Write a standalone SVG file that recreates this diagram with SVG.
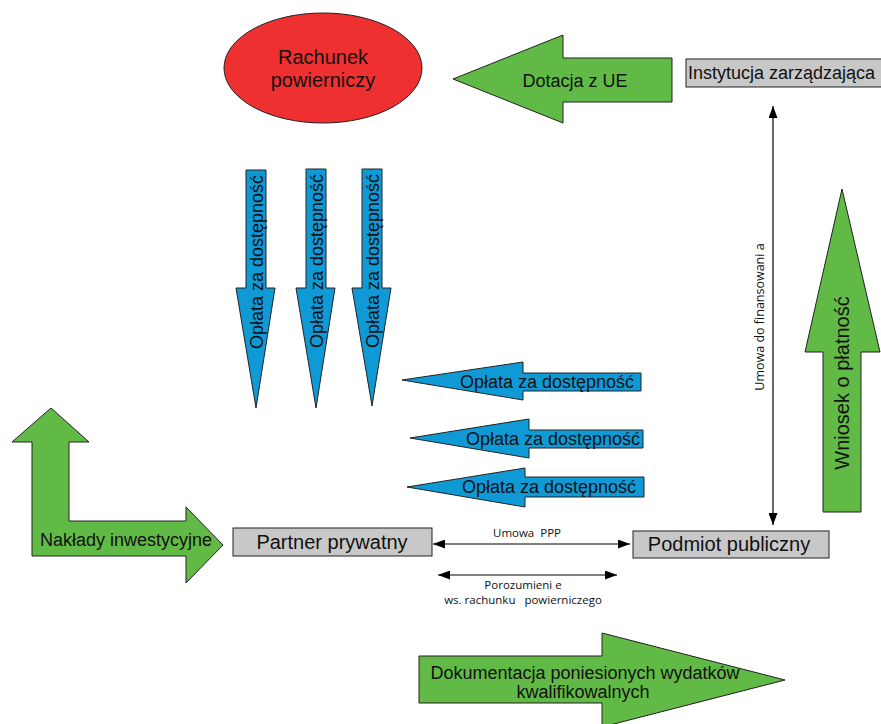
<svg xmlns="http://www.w3.org/2000/svg" width="881" height="724" viewBox="0 0 881 724">
<defs>
<marker id="ah" markerUnits="userSpaceOnUse" markerWidth="12" markerHeight="9" refX="12" refY="4.5" orient="auto-start-reverse">
<path d="M0,0 L12,4.5 L0,9 Z" fill="#000"/>
</marker>
</defs>
<style>
.g{fill:#62ba46;stroke:#222;stroke-width:1}
.b{fill:#0f9ad6;stroke:#222;stroke-width:1}
.box{fill:#c8c8c8;stroke:#222;stroke-width:1}
.t{font-family:"Liberation Sans",Arial,sans-serif;fill:#111}
.s{font-family:"Open Sans","Liberation Sans",sans-serif;font-size:11.5px;fill:#111}
.ln{stroke:#000;stroke-width:1.2;fill:none;marker-start:url(#ah);marker-end:url(#ah)}
</style>
<rect width="881" height="724" fill="#fff"/>

<g id="rachunek">
<ellipse cx="323" cy="68" rx="99" ry="55" fill="#ee3030" stroke="#222" stroke-width="1"/>
<text class="t" x="323" y="64" font-size="20" text-anchor="middle">Rachunek</text>
<text class="t" x="323" y="87" font-size="20" text-anchor="middle">powierniczy</text>
</g>

<g id="dotacja">
<polygon class="g" points="453,79 563,35 563,58 672,58 672,102 563,102 563,123"/>
<text class="t" x="575" y="87" font-size="18" text-anchor="middle">Dotacja z UE</text>
</g>

<g id="instytucja">
<rect class="box" x="686" y="59" width="200" height="28"/>
<text class="t" x="688" y="79" font-size="18">Instytucja zarządzająca</text>
</g>

<g id="oplata-v1">
<polygon class="b" points="246,170 266,170 266,288 275,288 256,408 236,288 246,288"/>
<text class="t" font-size="18" text-anchor="middle" transform="translate(263,262) rotate(-90)">Opłata za dostępność</text>
</g>
<g id="oplata-v2">
<polygon class="b" points="306,169 326,169 326,288 335,288 316,408 296,288 306,288"/>
<text class="t" font-size="18" text-anchor="middle" transform="translate(323,261) rotate(-90)">Opłata za dostępność</text>
</g>
<g id="oplata-v3">
<polygon class="b" points="362,169 382,169 382,288 391,288 372,406 352,288 362,288"/>
<text class="t" font-size="18" text-anchor="middle" transform="translate(379,261) rotate(-90)">Opłata za dostępność</text>
</g>

<g id="oplata-h1">
<polygon class="b" points="402,380 523,362 523,373 641,373 641,391 523,391 523,400"/>
<text class="t" x="547" y="388" font-size="18" text-anchor="middle">Opłata za dostępność</text>
</g>
<g id="oplata-h2">
<polygon class="b" points="410,438 529,419 529,430 643,430 643,448 529,448 529,458"/>
<text class="t" x="553" y="445" font-size="18" text-anchor="middle">Opłata za dostępność</text>
</g>
<g id="oplata-h3">
<polygon class="b" points="407,487 525,468 525,477 644,477 644,497 525,497 525,507"/>
<text class="t" x="549" y="493" font-size="18" text-anchor="middle">Opłata za dostępność</text>
</g>

<g id="naklady">
<polygon class="g" points="51,408 89,442 69,442 69,521 186,521 186,507 223,545 186,583 186,556 32,556 32,442 12,442"/>
<text class="t" x="126" y="546" font-size="18" text-anchor="middle">Nakłady inwestycyjne</text>
</g>

<g id="partner">
<rect class="box" x="233" y="528" width="199" height="28"/>
<text class="t" x="332" y="549" font-size="20" text-anchor="middle">Partner prywatny</text>
</g>

<g id="podmiot">
<rect class="box" x="633" y="531" width="196" height="27"/>
<text class="t" x="729" y="551" font-size="20" text-anchor="middle">Podmiot publiczny</text>
</g>

<g id="wniosek">
<polygon class="g" points="842,189 880,352 861,352 861,512 823,512 823,352 805,352"/>
<text class="t" font-size="20" text-anchor="middle" transform="translate(849,383) rotate(-90)">Wniosek o płatność</text>
</g>

<g id="dokumentacja">
<polygon class="g" points="419,656 602,656 602,633 785,680 602,727 602,703 419,703"/>
<text class="t" x="585" y="679" font-size="18" text-anchor="middle">Dokumentacja poniesionych wydatków</text>
<text class="t" x="583" y="698" font-size="18" text-anchor="middle">kwalifikowalnych</text>
</g>

<g id="connectors">
<line class="ln" x1="433" y1="544" x2="630" y2="544"/>
<text class="s" x="527" y="537" text-anchor="middle" xml:space="preserve">Umowa  PPP</text>
<line class="ln" x1="438" y1="575" x2="617" y2="575"/>
<text class="s" x="523" y="589" text-anchor="middle">Porozumieni e</text>
<text class="s" x="523" y="604" text-anchor="middle" xml:space="preserve">ws. rachunku   powierniczego</text>
<line class="ln" x1="773" y1="106" x2="773" y2="525"/>
<text class="s" text-anchor="middle" font-size="12" transform="translate(764,317) rotate(-90)" style="font-size:12.5px">Umowa do finansowani a</text>
</g>
</svg>
